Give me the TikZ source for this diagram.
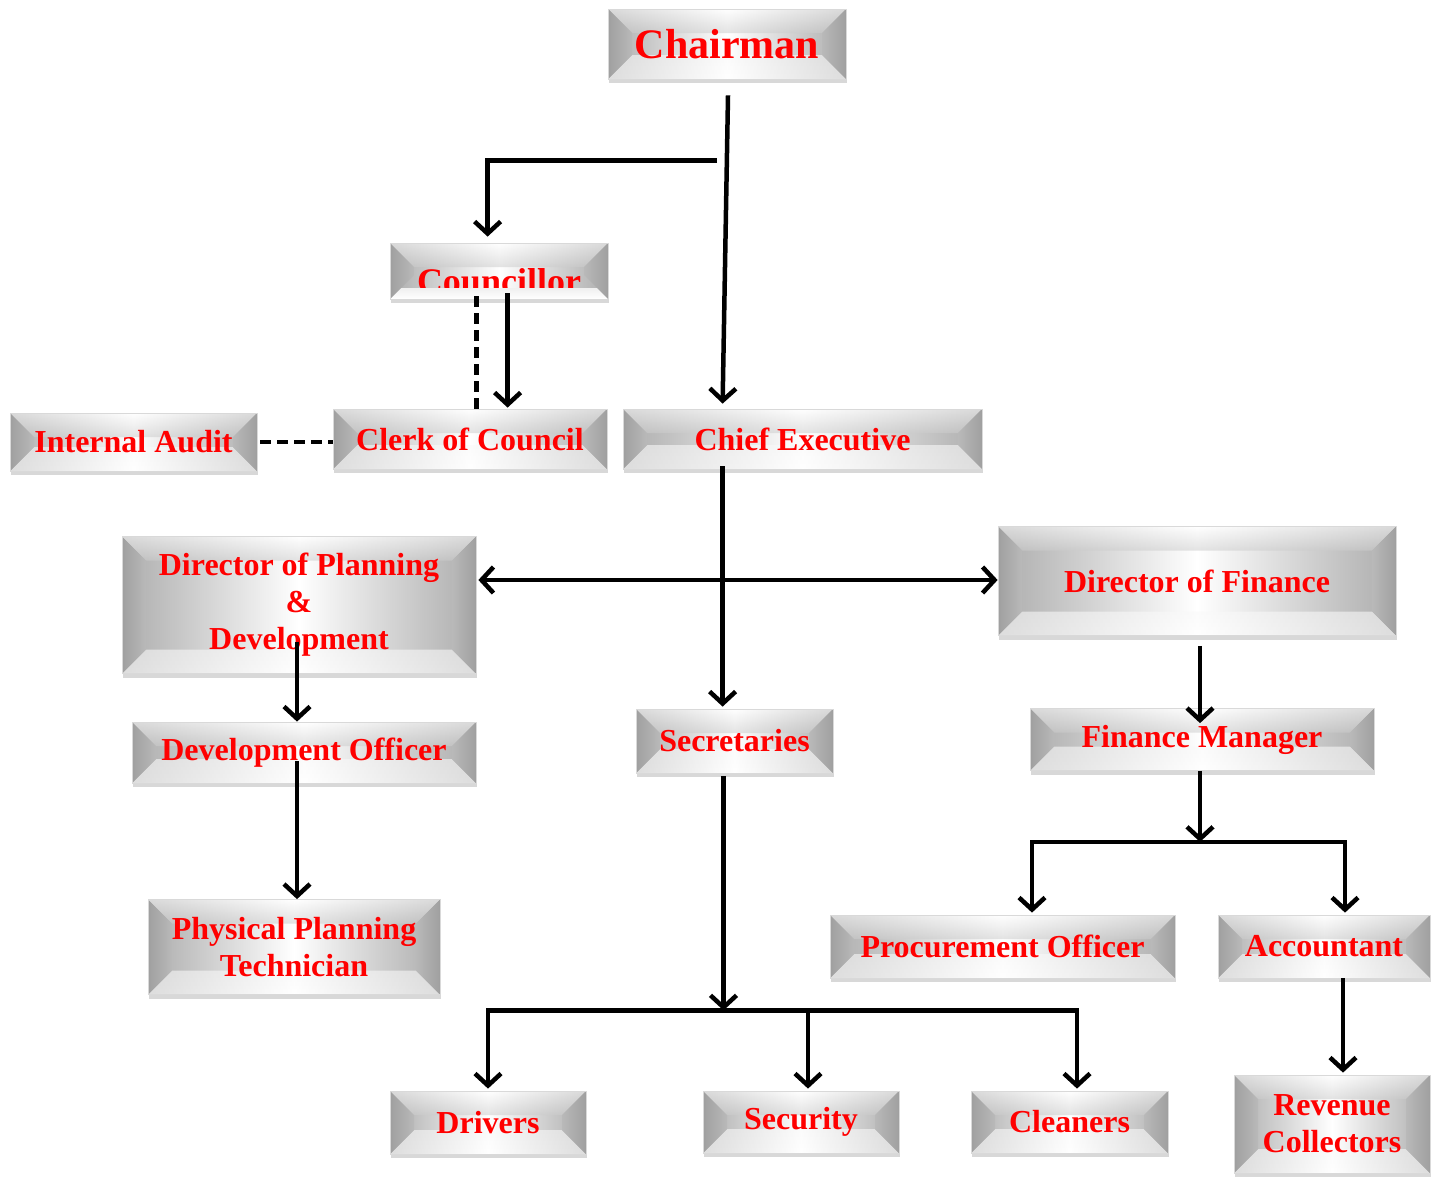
\documentclass[tikz,border=0pt]{standalone}
\usepackage{fontspec}
\setmainfont{Liberation Serif}
\usetikzlibrary{arrows.meta,calc,shadows}

\def\bd{24pt}
\newcommand\bevcorners{%
  \coordinate (bnw) at (path picture bounding box.north west);
  \coordinate (bne) at (path picture bounding box.north east);
  \coordinate (bsw) at (path picture bounding box.south west);
  \coordinate (bse) at (path picture bounding box.south east);}
\newcommand\bevface{%
  \shade[left color=gray!65, right color=gray!65, middle color=white] (bsw) rectangle (bne);}
\newcommand\bevtop{%
  \shade[top color=white, bottom color=gray!40, opacity=0.55] (bnw) -- (bne) -- ([xshift=-\bd,yshift=-\bd]bne) -- ([xshift=\bd,yshift=-\bd]bnw) -- cycle;}
\newcommand\bevbottom{%
  \shade[top color=gray!5, bottom color=white, opacity=0.6] (bsw) -- (bse) -- ([xshift=-\bd,yshift=\bd]bse) -- ([xshift=\bd,yshift=\bd]bsw) -- cycle;}
\newcommand\bevsides{%
  \shade[left color=gray!75, right color=gray!55] (bnw) -- ([xshift=\bd,yshift=-\bd]bnw) -- ([xshift=\bd,yshift=\bd]bsw) -- (bsw) -- cycle;
  \shade[left color=gray!55, right color=gray!75] (bne) -- ([xshift=-\bd,yshift=-\bd]bne) -- ([xshift=-\bd,yshift=\bd]bse) -- (bse) -- cycle;}

\tikzset{
  box/.style={draw=gray!30, line width=0.8pt, inner sep=0pt, align=center,
    text=red, font=\fontsize{32}{37}\selectfont\bfseries,
    drop shadow={opacity=0.3, shadow xshift=1pt, shadow yshift=-4pt},
    path picture={\bevcorners\bevface\bevtop\bevbottom\bevsides}},
  conn/.style={line width=4.5pt, black},
  tip/.tip={Straight Barb[length=12pt,width=26pt]},
  arr/.style={conn, -tip},
  dashconn/.style={conn, dash pattern=on 11pt off 6pt},
}

\begin{document}
\begin{tikzpicture}[x=1pt,y=-1pt]
\useasboundingbox (0,0) rectangle (1434,1176);
\fill[white] (0,0) rectangle (1434,1176);

% nodes
\node[box, minimum width=238pt, minimum height=70pt, font=\fontsize{42}{46}\selectfont\bfseries] (chair) at (727,44) {Chairman};
\node[box, minimum width=218pt, minimum height=56pt,
  path picture={\bevcorners\bevface\bevtop
    \node[text=red, font=\fontsize{36}{40}\selectfont\bfseries, anchor=base, inner sep=0pt]
      at ([yshift=-22pt]path picture bounding box.center) {Councillor};
    \shade[top color=gray!12, bottom color=white] (bsw) rectangle ([yshift=11pt]bse);
    \bevsides}] (counc) at (499,271) {};
\node[box, minimum width=247pt, minimum height=58pt] (audit) at (133.5,442) {Internal Audit};
\node[box, minimum width=274pt, minimum height=60pt] (clerk) at (470,439) {Clerk of Council};
\node[box, minimum width=359pt, minimum height=60pt] (ceo) at (802.5,439) {Chief Executive};
\node[box, minimum width=354pt, minimum height=137pt] (dpd) at (299,605) {Director of Planning\\\&\\Development};
\node[box, minimum width=398pt, minimum height=109pt] (dfin) at (1197,581) {Director of Finance};
\node[box, minimum width=344pt, minimum height=61pt] (devo) at (304,752.5) {Development Officer};
\node[box, minimum width=197pt, minimum height=64pt] (sec) at (734.5,741) {Secretaries};
\node[box, minimum width=344pt, minimum height=62pt] (fm) at (1202,739.5) {Finance Manager};
\node[box, minimum width=292pt, minimum height=95pt] (ppt) at (294,947) {Physical Planning\\Technician};
\node[box, minimum width=345pt, minimum height=63pt] (proc) at (1002.5,946.5) {Procurement Officer};
\node[box, minimum width=212pt, minimum height=63pt] (acct) at (1324,946.5) {Accountant};
\node[box, minimum width=196pt, minimum height=63pt] (drv) at (488,1122.5) {Drivers};
\node[box, minimum width=196pt, minimum height=62pt] (secu) at (801,1122) {Security};
\node[box, minimum width=197pt, minimum height=62pt] (clean) at (1069.5,1122) {Cleaners};
\node[box, minimum width=196pt, minimum height=98pt] (rev) at (1332,1124) {Revenue\\Collectors};

% helper coordinates
\coordinate (c0) at ([xshift=1pt,yshift=-16pt]chair.south);
\coordinate (c0e) at ([xshift=100pt,yshift=5pt]ceo.north west);
\coordinate (cb) at ([xshift=-10pt,yshift=-81pt]chair.south);
\coordinate (cbe) at ([xshift=98pt,yshift=6pt]counc.north west);
\coordinate (c1) at ([xshift=118pt,yshift=6pt]counc.south west);
\coordinate (cd) at ([xshift=87pt,yshift=3pt]counc.south west);
\coordinate (c2) at ([xshift=100pt,yshift=3pt]ceo.south west);
\coordinate (c3) at ([xshift=2pt,yshift=25pt]dpd.east);
\coordinate (c4) at ([xshift=-2pt,yshift=-36.5pt]dpd.center);
\coordinate (c5) at ([xshift=-7pt,yshift=-8.5pt]devo.center);
\coordinate (c6) at ([xshift=3pt,yshift=-10pt]dfin.south);
\coordinate (j1) at ([xshift=-2pt,yshift=-71pt]fm.south);
\coordinate (j2) at ([xshift=-11pt,yshift=-237pt]sec.south);

% connectors
\draw[arr] (c0) -- (c0e);
\draw[arr] (cb) -| (cbe);
\draw[arr] (c1) -- ([yshift=1pt]c1 |- clerk.north);
\draw[dashconn] (cd) -- (cd |- clerk.north);
\draw[dashconn] ([xshift=3pt]audit.east) -- (audit.east -| clerk.west);
\draw[arr] (c2) -- ([yshift=2pt]c2 |- sec.north);
\draw[conn, tip-tip] (c3) -- (c3 -| dfin.west);
\draw[arr] (c4) -- (c4 |- devo.north);
\draw[arr] (c5) -- (c5 |- ppt.north);
\draw[arr] (c6) -- ([xshift=-2pt,yshift=-15pt]fm.north);
\draw[arr] ([xshift=-2pt]fm.south) -- (j1);
\draw[arr] (j1) -| ([xshift=29.5pt,yshift=2pt]proc.north);
\draw[arr] (j1) -| ([xshift=21pt,yshift=2pt]acct.north);
\draw[arr] ([xshift=-11pt,yshift=-3pt]sec.south) -- (j2);
\draw[arr] (j2) -| ([yshift=2pt]drv.north);
\draw[arr] (j2) -| ([xshift=7pt,yshift=2pt]secu.north);
\draw[arr] (j2) -| ([xshift=7.5pt,yshift=2pt]clean.north);
\draw[arr] ([xshift=19pt]acct.south) -- ([xshift=11pt,yshift=2pt]rev.north);
\end{tikzpicture}
\end{document}
